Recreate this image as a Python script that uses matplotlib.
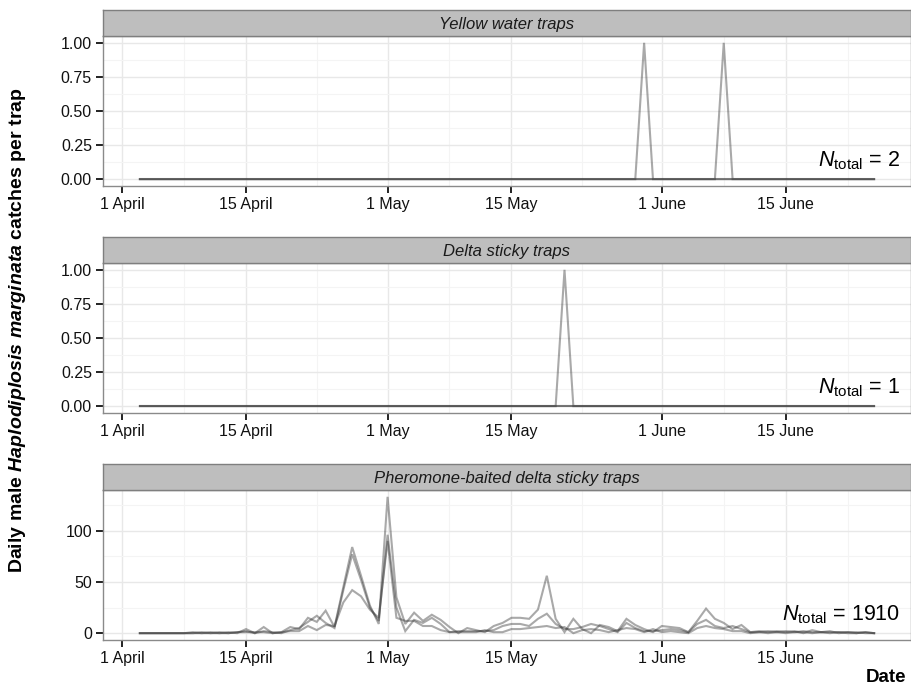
import numpy as np
import matplotlib
matplotlib.use('Agg')
import matplotlib.pyplot as plt

plt.rcParams['font.family'] = ['Liberation Sans', 'DejaVu Sans']
plt.rcParams['mathtext.fontset'] = 'custom'
plt.rcParams['mathtext.rm'] = 'Liberation Sans'
plt.rcParams['mathtext.it'] = 'Liberation Sans:italic'
plt.rcParams['mathtext.bf'] = 'Liberation Sans:bold'
plt.rcParams['mathtext.bfit'] = 'Liberation Sans:italic:bold'

# daily dates, 3 April - 25 June
dates = np.arange('2013-04-03', '2013-06-26', dtype='datetime64[D]')
n = len(dates)

# yellow water traps (one catch 30 May, one catch 8 June)
yellow_a = np.zeros(n)
yellow_b = np.zeros(n)
yellow_c = np.zeros(n)
yellow_a[dates == np.datetime64('2013-05-30')] = 1
yellow_b[dates == np.datetime64('2013-06-08')] = 1

# delta sticky traps (one catch 21 May)
delta_a = np.zeros(n)
delta_b = np.zeros(n)
delta_c = np.zeros(n)
delta_a[dates == np.datetime64('2013-05-21')] = 1

# pheromone-baited delta sticky traps
phero_a = [0, 0, 0, 0, 0, 0, 0, 1, 0, 0, 1, 0, 4, 0, 6, 0, 1, 6, 4, 15,
           11, 22, 6, 45, 84, 56, 27, 9, 133, 35, 9, 20, 12, 18, 13, 6, 0, 5, 3, 1,
           7, 10, 15, 15, 14, 23, 56, 14, 1, 14, 4, 0, 8, 6, 2, 14, 8, 4, 1, 7,
           6, 5, 1, 12, 24, 14, 10, 4, 8, 1, 2, 1, 2, 1, 2, 0, 3, 1, 2, 0,
           1, 1, 0, 0]
phero_b = [0, 0, 0, 0, 0, 0, 1, 0, 0, 1, 0, 1, 2, 0, 2, 1, 0, 3, 5, 11,
           17, 10, 5, 42, 77, 52, 25, 12, 96, 25, 2, 13, 10, 15, 9, 1, 2, 2, 2, 2,
           3, 7, 9, 9, 7, 14, 19, 9, 4, 4, 6, 9, 7, 4, 1, 10, 5, 2, 2, 3,
           4, 3, 1, 9, 13, 7, 5, 7, 4, 1, 1, 2, 1, 0, 1, 2, 1, 1, 0, 1,
           1, 0, 1, 0]
phero_c = [0, 0, 0, 0, 0, 0, 0, 0, 1, 0, 0, 1, 1, 1, 1, 0, 1, 2, 2, 7,
           3, 8, 7, 30, 42, 36, 23, 15, 90, 15, 12, 12, 7, 7, 3, 1, 1, 1, 1, 3,
           1, 1, 4, 4, 5, 6, 7, 5, 6, 0, 3, 4, 3, 1, 3, 5, 4, 1, 4, 1,
           2, 1, 0, 5, 7, 5, 4, 2, 2, 0, 1, 0, 1, 2, 1, 1, 0, 1, 1, 1,
           0, 0, 1, 0]

panels = [
    ('Yellow water traps', [yellow_a, yellow_b, yellow_c], 2),
    ('Delta sticky traps', [delta_a, delta_b, delta_c], 1),
    ('Pheromone-baited delta sticky traps', [phero_a, phero_b, phero_c], 1910),
]

major_dates = ['2013-04-01', '2013-04-15', '2013-05-01', '2013-05-15', '2013-06-01', '2013-06-15']
major_labels = ['1 April', '15 April', '1 May', '15 May', '1 June', '15 June']
minor_dates = ['2013-04-08', '2013-04-23', '2013-05-08', '2013-05-23', '2013-06-08', '2013-06-22']

W, H = 912, 687
fig = plt.figure(figsize=(W / 100, H / 100), dpi=100)

left, right = 103, 911
panel_tops = [36, 263, 490]
ph = 150
sh = 26

for (title, series, total), top in zip(panels, panel_tops):
    ax = fig.add_axes([left / W, 1 - (top + ph) / H, (right - left) / W, ph / H])
    sax = fig.add_axes([left / W, 1 - top / H, (right - left) / W, sh / H])

    # strip
    sax.set_facecolor('#bebebe')
    sax.set_xticks([])
    sax.set_yticks([])
    for s in sax.spines.values():
        s.set_color('#7f7f7f')
        s.set_linewidth(1.0)
    sax.text(0.5, 0.45, title, transform=sax.transAxes, ha='center', va='center',
             fontsize=12, style='italic', color='#1a1a1a')

    for y in series:
        ax.plot(dates, y, color='#333333', alpha=0.42, lw=1.5, solid_joinstyle='miter')

    d0 = dates[0].astype(float)
    d1 = dates[-1].astype(float)
    pad = 0.05 * (d1 - d0)
    ax.set_xlim(np.datetime64('1970-01-01') + np.timedelta64(int(round((d0 - pad) * 24)), 'h'),
                np.datetime64('1970-01-01') + np.timedelta64(int(round((d1 + pad) * 24)), 'h'))
    ymax = max(np.max(s) for s in series)
    ax.set_ylim(-0.05 * ymax, 1.05 * ymax)

    ax.set_xticks([np.datetime64(d) for d in major_dates])
    ax.set_xticklabels(major_labels)
    ax.set_xticks([np.datetime64(d) for d in minor_dates], minor=True)
    if ymax == 1:
        ax.set_yticks([0, 0.25, 0.5, 0.75, 1.0])
        ax.set_yticklabels(['0.00', '0.25', '0.50', '0.75', '1.00'])
        ax.set_yticks([0.125, 0.375, 0.625, 0.875], minor=True)
    else:
        ax.set_yticks([0, 50, 100])
        ax.set_yticks([25, 75, 125], minor=True)

    ax.grid(which='major', color='#e8e8e8', lw=1.0)
    ax.grid(which='minor', color='#f4f4f4', lw=0.8)
    ax.set_axisbelow(True)
    ax.tick_params(which='major', length=5, width=1.4, color='#222222', labelsize=11.5,
                   labelcolor='#111111', pad=3)
    ax.tick_params(which='minor', length=0)
    for s in ax.spines.values():
        s.set_color('#8a8a8a')
        s.set_linewidth(1.0)

    ax.text(0.986, 0.13, r'$\mathit{N}_{\mathrm{total}}$ = ' + str(total),
            transform=ax.transAxes, ha='right', va='baseline', fontsize=15.5)

fig.text(18 / W, 1 - 330 / H,
         r'Daily male $\mathbfit{Haplodiplosis}$ $\mathbfit{marginata}$ catches per trap',
         rotation=90, ha='center', va='center', fontsize=14, fontweight='bold')
fig.text(906 / W, 1 - 677 / H, 'Date', ha='right', va='center', fontsize=13.5,
         fontweight='bold')

fig.savefig('out.png', dpi=100)
